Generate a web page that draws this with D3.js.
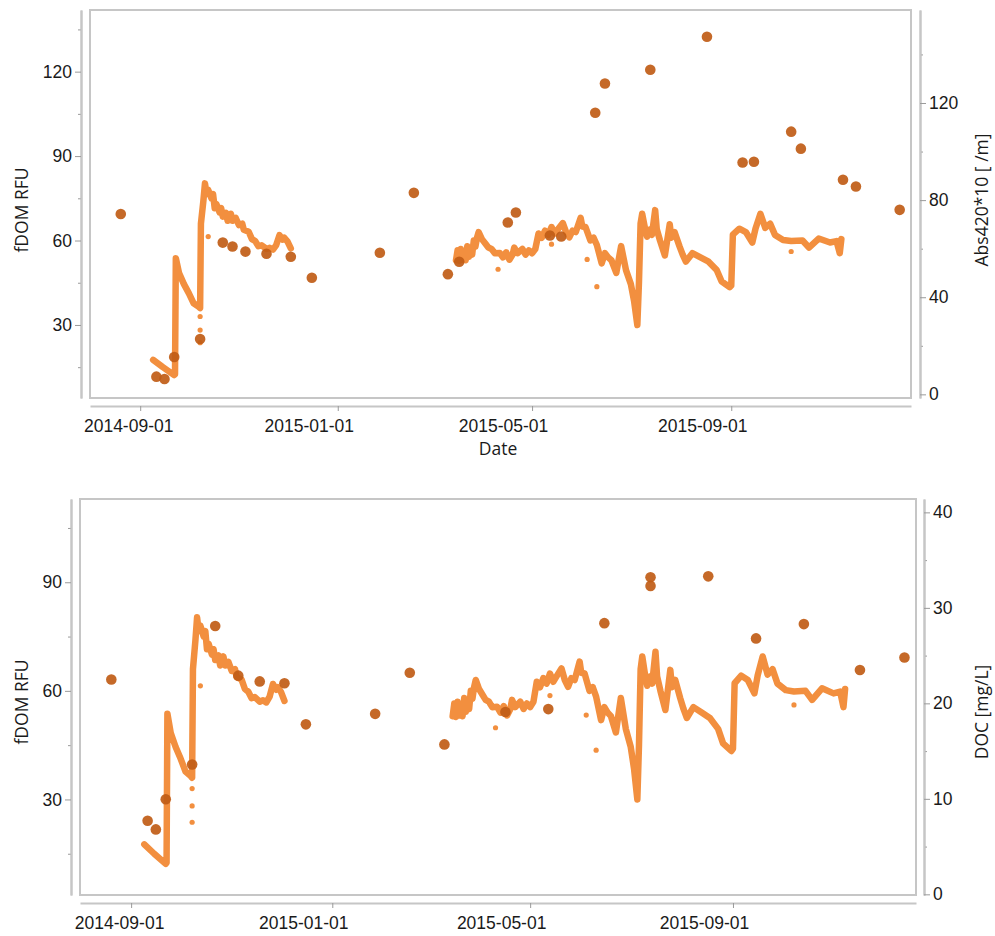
<!DOCTYPE html>
<html>
<head>
<meta charset="utf-8">
<script src="https://d3js.org/d3.v7.min.js"></script>
<style>
body { margin: 0; background: #fff; }
svg { font-family: "Open Sans", sans-serif; }
.tick text { font-size: 17.5px; fill: #1a1a1a; }
.axis-title { font-size: 17.5px; fill: #1a1a1a; }
</style>
</head>
<body>
<svg id="chart" width="995" height="936"></svg>
<script>

//fDOM sonde record, two deployments [date, RFU]
var fdom2014 = [
    ["2014-09-09", 17.6], ["2014-09-15", 15.0], ["2014-09-22", 12.2], ["2014-09-22T12", 12.5],
    ["2014-09-23", 53.7], ["2014-09-25", 48.4], ["2014-09-28", 44.5], ["2014-10-01", 41.3],
    ["2014-10-04", 37.7], ["2014-10-07", 36.5], ["2014-10-08", 36.0], ["2014-10-08T12", 66.0],
    ["2014-10-10", 74.0], ["2014-10-11", 80.3], ["2014-10-12", 76.5], ["2014-10-13", 78.0],
    ["2014-10-15", 75.0], ["2014-10-16", 76.5], ["2014-10-17", 71.5], ["2014-10-18", 73.0],
    ["2014-10-20", 70.0], ["2014-10-21", 71.5], ["2014-10-22", 68.5], ["2014-10-24", 69.8],
    ["2014-10-25", 67.0], ["2014-10-27", 69.5], ["2014-10-28", 67.0], ["2014-10-30", 68.0],
    ["2014-11-01", 65.5], ["2014-11-03", 66.0], ["2014-11-04", 63.8], ["2014-11-07", 63.1],
    ["2014-11-09", 60.5], ["2014-11-11", 59.8], ["2014-11-13", 58.0], ["2014-11-15", 58.3],
    ["2014-11-18", 57.0], ["2014-11-20", 57.4], ["2014-11-22", 56.8], ["2014-11-24", 58.4],
    ["2014-11-26", 61.9], ["2014-11-28", 60.3], ["2014-11-29", 61.0], ["2014-12-01", 59.6],
    ["2014-12-03", 57.2]
];
var fdom2015 = [
    ["2015-03-15", 53.0], ["2015-03-16", 56.5], ["2015-03-17", 52.8], ["2015-03-18", 57.0],
    ["2015-03-19", 53.2], ["2015-03-20", 56.0], ["2015-03-21", 53.0], ["2015-03-22", 58.0],
    ["2015-03-23", 54.2], ["2015-03-24", 57.5], ["2015-03-25", 55.0], ["2015-03-26", 60.0],
    ["2015-03-27", 57.8], ["2015-03-28", 61.0], ["2015-03-29", 63.0], ["2015-03-31", 60.5],
    ["2015-04-02", 59.0], ["2015-04-04", 57.5], ["2015-04-06", 57.0], ["2015-04-08", 55.5],
    ["2015-04-11", 55.6], ["2015-04-13", 54.0], ["2015-04-15", 55.8], ["2015-04-17", 53.2],
    ["2015-04-19", 55.0], ["2015-04-20", 57.5], ["2015-04-22", 55.5], ["2015-04-25", 57.0],
    ["2015-04-27", 55.0], ["2015-04-29", 56.5], ["2015-05-01", 55.5], ["2015-05-03", 57.0],
    ["2015-05-05", 62.5], ["2015-05-07", 61.0], ["2015-05-09", 63.5], ["2015-05-11", 62.0],
    ["2015-05-13", 64.8], ["2015-05-15", 62.5], ["2015-05-17", 64.0], ["2015-05-20", 66.2],
    ["2015-05-22", 63.0], ["2015-05-24", 61.1], ["2015-05-26", 63.5], ["2015-05-28", 63.0],
    ["2015-05-31", 68.1], ["2015-06-01", 65.0], ["2015-06-03", 64.8], ["2015-06-06", 60.0],
    ["2015-06-08", 61.0], ["2015-06-10", 58.4], ["2015-06-13", 51.9], ["2015-06-15", 55.5],
    ["2015-06-17", 54.0], ["2015-06-19", 53.0], ["2015-06-22", 48.5], ["2015-06-25", 58.0],
    ["2015-06-28", 49.5], ["2015-07-01", 44.5], ["2015-07-03", 38.5], ["2015-07-05", 30.0],
    ["2015-07-06", 45.0], ["2015-07-07", 66.0], ["2015-07-08", 69.5], ["2015-07-10", 63.5],
    ["2015-07-11", 61.4], ["2015-07-13", 64.0], ["2015-07-14", 62.0], ["2015-07-16", 70.8],
    ["2015-07-17", 64.0], ["2015-07-19", 60.0], ["2015-07-22", 54.7], ["2015-07-25", 65.8],
    ["2015-07-26", 61.0], ["2015-07-28", 63.0], ["2015-07-31", 58.0], ["2015-08-02", 55.0],
    ["2015-08-04", 52.5], ["2015-08-08", 55.5], ["2015-08-13", 54.0], ["2015-08-18", 52.5],
    ["2015-08-23", 49.5], ["2015-08-26", 45.5], ["2015-08-31", 43.4], ["2015-09-01", 44.0],
    ["2015-09-02", 62.1], ["2015-09-06", 64.2], ["2015-09-10", 63.0], ["2015-09-14", 59.3],
    ["2015-09-16", 64.3], ["2015-09-19", 69.5], ["2015-09-22", 64.5], ["2015-09-25", 66.0],
    ["2015-09-28", 62.0], ["2015-10-03", 60.2], ["2015-10-08", 59.8], ["2015-10-15", 60.0],
    ["2015-10-19", 57.5], ["2015-10-25", 60.7], ["2015-11-01", 59.3], ["2015-11-05", 59.8],
    ["2015-11-07", 55.5], ["2015-11-08", 60.5]
];
//single fDOM readings
var fdomStray = [
    ["2014-10-08", 33.0], ["2014-10-08", 28.2], ["2014-10-08", 23.7], ["2014-10-13", 61.4],
    ["2015-04-10", 49.8], ["2015-05-13", 58.7], ["2015-06-04", 53.3], ["2015-06-10", 43.6],
    ["2015-10-08", 56.1]
];

//grab samples
var abs420 = [
    ["2014-08-20", 74.3], ["2014-09-11", 7.3], ["2014-09-16", 6.3], ["2014-09-22", 15.4],
    ["2014-10-08", 22.8], ["2014-10-22", 62.5], ["2014-10-28", 60.9], ["2014-11-05", 58.8],
    ["2014-11-18", 57.9], ["2014-12-03", 56.7], ["2014-12-16", 48.0], ["2015-01-27", 58.3],
    ["2015-02-17", 83.0], ["2015-03-10", 49.5], ["2015-03-17", 54.6], ["2015-04-16", 70.8],
    ["2015-04-21", 74.9], ["2015-05-12", 65.4], ["2015-05-19", 65.0], ["2015-06-09", 116.0],
    ["2015-06-15", 128.0], ["2015-07-13", 133.7], ["2015-08-17", 147.3], ["2015-09-08", 95.5],
    ["2015-09-15", 95.8], ["2015-10-08", 108.2], ["2015-10-14", 101.2], ["2015-11-09", 88.4],
    ["2015-11-17", 85.6], ["2015-12-14", 76.0]
];
var doc = [
    ["2014-08-20", 22.5], ["2014-09-11", 7.7], ["2014-09-16", 6.8], ["2014-09-22", 9.95],
    ["2014-10-08", 13.6], ["2014-10-22", 28.1], ["2014-11-05", 22.9], ["2014-11-18", 22.3],
    ["2014-12-03", 22.1], ["2014-12-16", 17.8], ["2015-01-27", 18.9], ["2015-02-17", 23.2],
    ["2015-03-10", 15.7], ["2015-04-16", 19.1], ["2015-05-12", 19.4], ["2015-06-15", 28.4],
    ["2015-07-13", 33.2], ["2015-07-13", 32.3], ["2015-08-17", 33.3], ["2015-09-15", 26.8],
    ["2015-10-14", 28.3], ["2015-11-17", 23.5], ["2015-12-14", 24.8]
];

var xDomain = ["2014-08-01", "2015-12-21"];
var xTicks = ["2014-09-01", "2015-01-01", "2015-05-01", "2015-09-01"];

var topLeftTicks = [30, 60, 90, 120], topLeftMinor = [15, 45, 75, 105, 135];
var topRightTicks = [0, 40, 80, 120], topRightMinor = [20, 60, 100, 140];
var botLeftTicks = [30, 60, 90], botLeftMinor = [15, 45, 75, 105];
var botRightTicks = [0, 10, 20, 30, 40], botRightMinor = [5, 15, 25, 35];

var light = "#f28f3f";
var dark = "#c05c16";
var grey = "#c6c6c6";

//the date labels sit left of their ticks in the original
var dateLabelShift = [-12, -29, -29, -29];

function parseDate(s) {
    return s.length > 10 ? d3.utcParse("%Y-%m-%dT%H")(s) : d3.utcParse("%Y-%m-%d")(s);
}

var svg = d3.select("#chart");

function drawPanel(p) {
    var x = d3.scaleUtc()
        .domain(xDomain.map(parseDate))
        .range([p.left, p.right]);
    var yL = d3.scaleLinear().domain(p.leftDomain).range([p.bottom, p.top]);
    var yR = d3.scaleLinear().domain(p.rightDomain).range([p.bottom, p.top]);

    var g = svg.append("g");

    //frame
    g.append("rect")
        .attr("x", p.left)
        .attr("y", p.top)
        .attr("width", p.right - p.left)
        .attr("height", p.bottom - p.top)
        .attr("fill", "none")
        .attr("stroke", grey)
        .attr("stroke-width", 2);

    //offset axes
    function styleAxis(sel) {
        sel.select(".domain").attr("stroke", grey).attr("stroke-width", 2);
        sel.selectAll(".tick line").attr("stroke", "#9a9a9a");
    }

    g.append("g")
        .attr("transform", "translate(" + p.leftAxisX + ",0)")
        .call(d3.axisLeft(yL).tickValues(p.leftMinor).tickSize(3).tickFormat("").tickSizeOuter(0))
        .call(styleAxis);
    g.append("g")
        .attr("transform", "translate(" + p.leftAxisX + ",0)")
        .call(d3.axisLeft(yL).tickValues(p.leftTicks).tickSize(6).tickPadding(3).tickSizeOuter(0))
        .call(styleAxis);

    g.append("g")
        .attr("transform", "translate(" + p.rightAxisX + ",0)")
        .call(d3.axisRight(yR).tickValues(p.rightMinor).tickSize(3).tickFormat("").tickSizeOuter(0))
        .call(styleAxis);
    g.append("g")
        .attr("transform", "translate(" + p.rightAxisX + ",0)")
        .call(d3.axisRight(yR).tickValues(p.rightTicks).tickSize(6).tickPadding(3).tickSizeOuter(0))
        .call(styleAxis);

    g.append("g")
        .attr("transform", "translate(0," + p.bottomAxisY + ")")
        .call(d3.axisBottom(x)
            .tickValues(xTicks.map(parseDate))
            .tickFormat(d3.utcFormat("%Y-%m-%d"))
            .tickSize(5).tickPadding(9).tickSizeOuter(0))
        .call(styleAxis)
        .selectAll(".tick text")
        .attr("dx", function(d, i) { return dateLabelShift[i]; });

    //fDOM trace
    var line = d3.line()
        .x(function(d) { return x(parseDate(d[0])); })
        .y(function(d) { return yL(d[1]); });

    g.selectAll("path.fdom")
        .data([fdom2014, fdom2015])
        .enter()
        .append("path")
        .attr("class", "fdom")
        .attr("d", line)
        .attr("fill", "none")
        .attr("stroke", light)
        .attr("stroke-width", 6.5)
        .attr("stroke-linejoin", "round")
        .attr("stroke-linecap", "round");

    g.selectAll("circle.stray")
        .data(fdomStray)
        .enter()
        .append("circle")
        .attr("class", "stray")
        .attr("cx", function(d) { return x(parseDate(d[0])); })
        .attr("cy", function(d) { return yL(d[1]); })
        .attr("r", 2.6)
        .attr("fill", light);

    //grab samples
    g.selectAll("circle.sample")
        .data(p.samples)
        .enter()
        .append("circle")
        .attr("class", "sample")
        .attr("cx", function(d) { return x(parseDate(d[0])); })
        .attr("cy", function(d) { return yR(d[1]); })
        .attr("r", 5.3)
        .attr("fill", dark)
        .attr("fill-opacity", 0.92);

    //titles
    g.append("text")
        .attr("class", "axis-title")
        .attr("transform", "translate(" + p.leftTitleX + "," + p.leftTitleY + ") rotate(-90)")
        .attr("text-anchor", "middle")
        .text("fDOM RFU");

    g.append("text")
        .attr("class", "axis-title")
        .attr("transform", "translate(" + p.rightTitleX + "," + p.rightTitleY + ") rotate(-90)")
        .attr("text-anchor", "middle")
        .text(p.rightTitle);

    if (p.xTitle) {
        g.append("text")
            .attr("class", "axis-title")
            .attr("x", 498)
            .attr("y", 455)
            .attr("text-anchor", "middle")
            .text(p.xTitle);
    }
}

drawPanel({
    left: 90, right: 911, top: 10, bottom: 398,
    leftAxisX: 81, rightAxisX: 920, bottomAxisY: 406,
    leftDomain: [4.05, 141.9], rightDomain: [-1.5, 158.3],
    leftTicks: topLeftTicks, leftMinor: topLeftMinor,
    rightTicks: topRightTicks, rightMinor: topRightMinor,
    samples: abs420,
    leftTitleX: 28, leftTitleY: 210,
    rightTitleX: 988, rightTitleY: 200,
    rightTitle: "Abs420*10 [ /m]",
    xTitle: "Date"
});

drawPanel({
    left: 80, right: 916, top: 499, bottom: 895,
    leftAxisX: 71, rightAxisX: 924, bottomAxisY: 903,
    leftDomain: [3.6, 113.0], rightDomain: [-0.07, 41.4],
    leftTicks: botLeftTicks, leftMinor: botLeftMinor,
    rightTicks: botRightTicks, rightMinor: botRightMinor,
    samples: doc,
    leftTitleX: 28, leftTitleY: 702,
    rightTitleX: 988, rightTitleY: 712,
    rightTitle: "DOC [mg/L]",
    xTitle: null
});

</script>
</body>
</html>
